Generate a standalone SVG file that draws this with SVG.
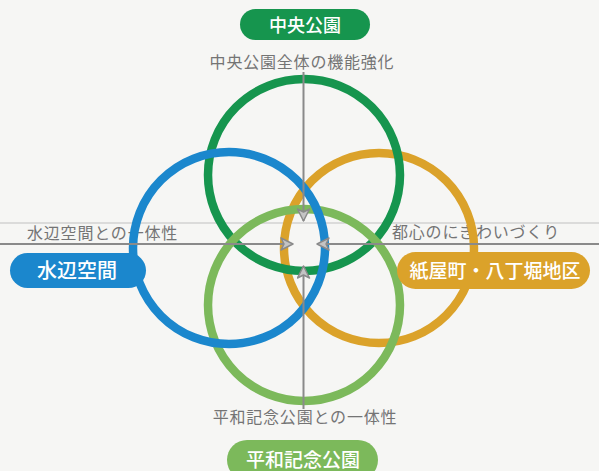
<svg xmlns="http://www.w3.org/2000/svg" width="599" height="471" viewBox="0 0 599 471">
<style>
.sub{font-family:"Noto Sans CJK JP","Noto Sans",sans-serif;font-size:16px;fill:#747474;font-weight:400;letter-spacing:0.8px}
.pt{font-family:"Noto Sans CJK JP","Noto Sans",sans-serif;fill:#ffffff;font-weight:500;text-anchor:middle}
.ring{fill:none;stroke-width:8.5}
.ax{stroke:#8a8a8a;stroke-width:2;fill:none}
</style>
<defs>
<marker id="ah" markerUnits="userSpaceOnUse" viewBox="0 0 14 14" refX="13" refY="7" markerWidth="14" markerHeight="14" orient="auto">
<path d="M1,1 L13,7 L1,13 L4,7 z" fill="#c4c4c4" stroke="#8a8a8a" stroke-width="1.5" stroke-linejoin="round"/>
</marker>
</defs>
<rect width="599" height="471" fill="#f6f6f4"/>
<line x1="0" y1="223" x2="599" y2="223" stroke="#d2d2d2" stroke-width="1.5"/>
<g id="labels">
<text class="sub" x="302" y="68" text-anchor="middle">中央公園全体の機能強化</text>
<text class="sub" x="27" y="239">水辺空間との一体性</text>
<text class="sub" x="392" y="238">都心のにぎわいづくり</text>
<text class="sub" x="305" y="423" text-anchor="middle">平和記念公園との一体性</text>
</g>
<g id="circles">
<circle id="c-yellow" class="ring" cx="379" cy="248" r="95" stroke="#dba22a"/>
<circle id="c-green" class="ring" cx="304" cy="175" r="96" stroke="#16954e"/>
<circle id="c-lightgreen" class="ring" cx="304" cy="305" r="96" stroke="#7cb95b"/>
<circle id="c-blue" class="ring" cx="229" cy="248" r="96" stroke="#1b87cd"/>
</g>
<g id="connectors">
<line class="ax" x1="303.5" y1="72" x2="303.5" y2="221" marker-end="url(#ah)"/>
<line class="ax" x1="303.5" y1="409" x2="303.5" y2="266" marker-end="url(#ah)"/>
<line class="ax" x1="0" y1="244" x2="293" y2="244" marker-end="url(#ah)"/>
<line class="ax" x1="599" y1="244" x2="317" y2="244" marker-end="url(#ah)"/>
</g>
<g id="node-chuo">
<rect x="240" y="9" width="130" height="31" rx="15.5" fill="#16954e"/>
<text class="pt" x="305" y="32" font-size="18">中央公園</text>
</g>
<g id="node-mizube">
<rect x="10" y="253" width="136" height="35" rx="17.5" fill="#1b87cd"/>
<text class="pt" x="77" y="278" font-size="20">水辺空間</text>
</g>
<g id="node-kamiyacho">
<rect x="397" y="252" width="193" height="37" rx="18.5" fill="#dba22a"/>
<text class="pt" x="495" y="278" font-size="19">紙屋町・八丁堀地区</text>
</g>
<g id="node-heiwa">
<rect x="227" y="440" width="151" height="40" rx="20" fill="#7cb95b"/>
<text class="pt" x="303" y="467" font-size="19">平和記念公園</text>
</g>
</svg>
